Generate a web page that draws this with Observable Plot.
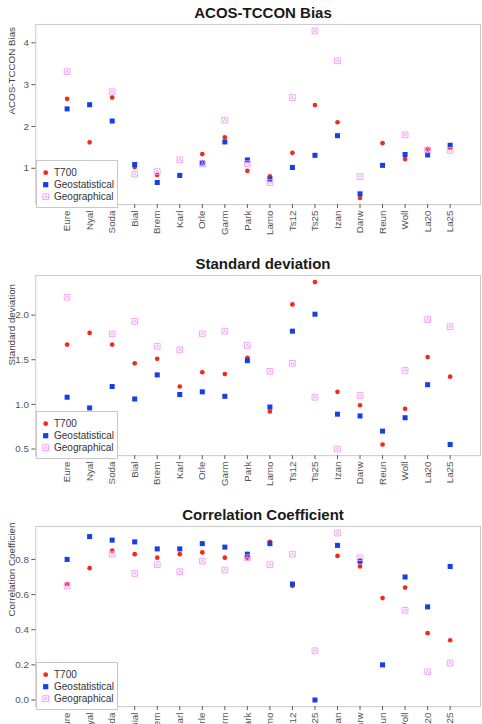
<!DOCTYPE html>
<html><head><meta charset="utf-8">
<script src="https://cdn.jsdelivr.net/npm/d3@7"></script>
<script src="https://cdn.jsdelivr.net/npm/@observablehq/plot@0.6"></script>
<style>
body{margin:0;background:#fff;overflow:hidden;font-family:"Liberation Sans",Arial,Helvetica,sans-serif;}
#wrap{position:relative;width:482px;height:724px;overflow:hidden;background:#fff;}
.panel{position:absolute;left:0;width:482px;height:251px;}
.title{position:absolute;left:36px;width:454px;top:4px;text-align:center;font-weight:bold;font-size:15px;line-height:17px;color:#1a1a1a;}
.panel svg.plot{position:absolute;left:0;top:20px;}
.legend{position:absolute;left:36px;top:160px;}
</style></head>
<body><div id="wrap"></div>
<script>
const stations = ["Eure","Nyal","Soda","Bial","Brem","Karl","Orle","Garm","Park","Lamo","Ts12","Ts25","Izan","Darw","Reun","Woll","La20","La25"];
const seriesNames = ["T700","Geostatistical","Geographical"];
const titles = ["ACOS-TCCON Bias","Standard deviation","Correlation Coefficient"];
const yLabels = ["ACOS-TCCON Bias","Standard deviation","Correlation Coefficient"];

const biasT700    = [2.66,1.62,2.69,1.03,0.84,0.83,1.34,1.74,0.94,0.81,1.37,2.51,2.10,0.29,1.60,1.22,1.45,1.49];
const biasGeostat = [2.42,2.52,2.13,1.09,0.66,0.83,1.13,1.63,1.20,0.74,1.02,1.31,1.78,0.39,1.07,1.33,1.32,1.55];
const biasGeog    = [3.31,null,2.83,0.86,0.92,1.20,1.11,2.15,1.11,0.66,2.69,4.28,3.57,0.80,null,1.80,1.44,1.43];

const sdT700    = [1.67,1.80,1.67,1.46,1.51,1.20,1.36,1.34,1.52,0.92,2.12,2.37,1.14,0.99,0.55,0.95,1.53,1.31];
const sdGeostat = [1.08,0.96,1.20,1.06,1.33,1.11,1.14,1.09,1.49,0.97,1.82,2.01,0.89,0.87,0.70,0.85,1.22,0.55];
const sdGeog    = [2.20,null,1.79,1.93,1.65,1.61,1.79,1.82,1.66,1.37,1.46,1.08,0.50,1.10,null,1.38,1.95,1.87];

const corrT700    = [0.66,0.75,0.85,0.83,0.81,0.83,0.84,0.81,0.81,0.90,0.65,null,0.82,0.76,0.58,0.64,0.38,0.34];
const corrGeostat = [0.80,0.93,0.91,0.90,0.86,0.86,0.89,0.87,0.83,0.89,0.66,0.00,0.88,0.79,0.20,0.70,0.53,0.76];
const corrGeog    = [0.65,null,0.83,0.72,0.77,0.73,0.79,0.74,0.81,0.77,0.83,0.28,0.95,0.81,null,0.51,0.16,0.21];

const biasTicks = [1,2,3,4];
const sdTicks = [0.5,1.0,1.5,2.0];
const corrTicks = [0.0,0.2,0.4,0.6,0.8];

const colors = ["#ee2b1c","#1740e4","#f29af2"];
const FONT = '"Liberation Sans",Arial,Helvetica,sans-serif';

// pch 14 style: square with a small inscribed triangle
const boxTri = {
  draw(ctx, size) {
    const h = Math.sqrt(size) / 2;
    ctx.moveTo(-h, -h); ctx.lineTo(h, -h); ctx.lineTo(h, h); ctx.lineTo(-h, h); ctx.closePath();
    const k = h * 0.55;
    ctx.moveTo(-k, k); ctx.lineTo(0, -k); ctx.lineTo(k, k);
  }
};

function rows(vals) {
  return stations.map((s, i) => ({s, v: vals[i]})).filter(d => d.v != null);
}

function makePlot(ylabel, t700, geost, geog, ticks, fmt) {
  const all = [...t700, ...geost, ...geog].filter(v => v != null);
  const [lo, hi] = d3.extent(all);
  const pad = (hi - lo) * 0.04;
  return Plot.plot({
    width: 492, height: 231,
    marginLeft: 36, marginRight: 2, marginTop: 4, marginBottom: 43,
    style: {fontFamily: FONT, fontSize: "10px", color: "#444", background: "transparent"},
    x: {type: "point", domain: stations, padding: 1.22, label: null},
    y: {domain: [lo - pad, hi + pad], label: null},
    marks: [
      Plot.frame({stroke: "#c8c8c8"}),
      Plot.axisX({tickRotate: -90, tickSize: 4, tickPadding: 2, color: "#555", label: null}),
      Plot.axisY({ticks, tickFormat: fmt, tickSize: 4, tickPadding: 3, color: "#555", label: null}),
      Plot.text([ylabel], {frameAnchor: "left", dx: -24, rotate: -90, fill: "#444", fontSize: 10}),
      Plot.dot(rows(t700), {x: "s", y: "v", r: 2.4, fill: colors[0], symbol: "circle"}),
      Plot.dot(rows(geost), {x: "s", y: "v", r: 2.9, fill: colors[1], symbol: "square"}),
      Plot.dot(rows(geog), {x: "s", y: "v", r: 3.3, stroke: colors[2], fill: "none", strokeWidth: 0.9, symbol: boxTri})
    ]
  });
}

function makeLegend() {
  const w = 82, h = 48;
  const svg = d3.create("svg").attr("class", "legend").attr("width", w).attr("height", h)
    .style("font-family", FONT);
  svg.append("rect").attr("x", 0.5).attr("y", 0.5).attr("width", w - 1).attr("height", h - 1)
    .attr("fill", "#fff").attr("stroke", "#c8c8c8");
  const ys = [12.7, 24.7, 36.7];
  svg.append("circle").attr("cx", 9.7).attr("cy", ys[0]).attr("r", 2.4).attr("fill", colors[0]);
  svg.append("rect").attr("x", 9.7 - 2.6).attr("y", ys[1] - 2.6).attr("width", 5.2).attr("height", 5.2).attr("fill", colors[1]);
  const g = svg.append("g").attr("transform", `translate(9.7,${ys[2]})`);
  const p = d3.path(); boxTri.draw(p, Math.PI * 3.3 * 3.3);
  g.append("path").attr("d", p.toString()).attr("fill", "none").attr("stroke", colors[2]).attr("stroke-width", 0.9);
  seriesNames.forEach((n, i) => {
    svg.append("text").attr("x", 18).attr("y", ys[i]).attr("dy", "0.35em")
      .attr("font-size", 10).attr("fill", "#333").text(n);
  });
  return svg.node();
}

const panels = [
  [biasT700, biasGeostat, biasGeog, biasTicks, d => d3.format("d")(d)],
  [sdT700, sdGeostat, sdGeog, sdTicks, d3.format(".1f")],
  [corrT700, corrGeostat, corrGeog, corrTicks, d3.format(".1f")]
];

const wrap = document.getElementById("wrap");
panels.forEach(([a, b, c, ticks, fmt], i) => {
  const div = document.createElement("div");
  div.className = "panel";
  div.style.top = (251 * i) + "px";
  const t = document.createElement("div");
  t.className = "title";
  t.textContent = titles[i];
  div.appendChild(t);
  const svg = makePlot(yLabels[i], a, b, c, ticks, fmt);
  svg.classList.add("plot");
  div.appendChild(svg);
  div.appendChild(makeLegend());
  wrap.appendChild(div);
});
</script>
</body></html>
